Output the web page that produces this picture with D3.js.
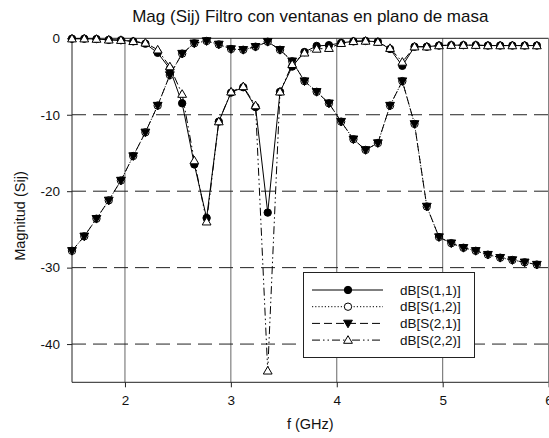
<!DOCTYPE html>
<html><head><meta charset="utf-8">
<script src="https://cdn.jsdelivr.net/npm/d3@7"></script>
<style>body{margin:0;background:#fff}svg{display:block;font-family:"Liberation Sans",Arial,sans-serif}</style>
</head><body><svg id="c" width="549" height="438"></svg>
<script>
const freq = [1.500,1.616,1.731,1.847,1.962,2.078,2.193,2.309,2.424,2.540,2.655,2.771,2.886,3.002,3.117,3.233,3.348,3.464,3.579,3.695,3.810,3.926,4.041,4.157,4.272,4.388,4.503,4.619,4.734,4.850,4.965,5.081,5.196,5.312,5.427,5.543,5.658,5.774,5.889];
const s11 = [-0.05,-0.05,-0.1,-0.2,-0.25,-0.4,-0.7,-1.9,-4.0,-8.5,-16.5,-23.5,-10.9,-7.1,-6.4,-9.0,-22.8,-7.0,-3.7,-1.8,-1.0,-0.9,-0.6,-0.4,-0.35,-0.45,-1.4,-3.6,-1.1,-1.1,-0.95,-0.9,-0.9,-0.9,-0.95,-0.95,-0.95,-0.95,-0.95];
const s12 = [-27.8,-25.9,-23.6,-21.2,-18.6,-15.4,-12.3,-8.8,-4.8,-2.0,-0.65,-0.35,-0.8,-1.4,-1.5,-1.1,-0.45,-1.5,-3.0,-5.6,-7.0,-8.5,-10.9,-13.2,-14.6,-13.7,-8.8,-5.6,-11.2,-22.0,-26.0,-26.8,-27.4,-27.8,-28.3,-28.7,-29.0,-29.3,-29.6];
const s21 = [-27.8,-25.9,-23.6,-21.2,-18.6,-15.4,-12.3,-8.8,-4.8,-2.0,-0.65,-0.35,-0.8,-1.4,-1.5,-1.1,-0.45,-1.5,-3.0,-5.6,-7.0,-8.5,-10.9,-13.2,-14.6,-13.7,-8.8,-5.6,-11.2,-22.0,-26.0,-26.8,-27.4,-27.8,-28.3,-28.7,-29.0,-29.3,-29.6];
const s22 = [-0.05,-0.05,-0.1,-0.2,-0.25,-0.4,-0.6,-1.5,-3.7,-7.3,-16.0,-24.0,-10.9,-7.0,-6.3,-8.8,-43.5,-7.0,-3.4,-1.9,-1.4,-1.3,-0.65,-0.4,-0.35,-0.5,-1.3,-3.1,-1.1,-1.1,-0.95,-0.9,-0.9,-0.9,-0.95,-0.95,-0.95,-0.95,-0.95];
const seriesNames = ["dB[S(1,1)]","dB[S(1,2)]","dB[S(2,1)]","dB[S(2,2)]"];
const xTicks = [2,3,4,5,6];
const yTicks = [0,-10,-20,-30,-40];
const title = "Mag (Sij) Filtro con ventanas en plano de masa";
const xTitle = "f (GHz)";
const yTitle = "Magnitud (Sij)";

const svg = d3.select("#c");
const L=72, R=548.6, T=38.3, B=382.3;
const x = d3.scaleLinear().domain([1.5,6]).range([L,R]);
const y = d3.scaleLinear().domain([-45,0]).range([B,T]);

// grid
svg.append("g").selectAll("line").data(xTicks.filter(d=>d<6)).join("line")
  .attr("x1",d=>x(d)).attr("x2",d=>x(d)).attr("y1",T).attr("y2",B)
  .attr("stroke","#666").attr("stroke-width",1);
svg.append("g").selectAll("line").data(yTicks.filter(d=>d<0)).join("line")
  .attr("x1",L).attr("x2",R).attr("y1",d=>y(d)).attr("y2",d=>y(d))
  .attr("stroke","#222").attr("stroke-width",1).attr("stroke-dasharray","14,7");
// frame
svg.append("line").attr("x1",L).attr("x2",R).attr("y1",T).attr("y2",T).attr("stroke","#222");
svg.append("line").attr("x1",R).attr("x2",R).attr("y1",T).attr("y2",B).attr("stroke","#777");

// axes
const fmt = d=>String(d);
const xa = svg.append("g").attr("transform",`translate(0,${B})`)
  .call(d3.axisBottom(x).tickValues(xTicks).tickSize(5).tickPadding(8).tickFormat(fmt));
const ya = svg.append("g").attr("transform",`translate(${L},0)`)
  .call(d3.axisLeft(y).tickValues(yTicks).tickSize(5).tickPadding(7).tickFormat(fmt));
[xa,ya].forEach(a=>{a.select(".domain").attr("stroke","#222");a.selectAll(".tick line").attr("stroke","#222");
  a.selectAll("text").attr("font-size",13.5).attr("fill","#111").attr("font-family","Liberation Sans, Arial, sans-serif");});
ya.select(".domain").attr("d",`M0,${T}V${B}`);
xa.select(".domain").attr("d",`M${L},0H${R}`);

const styles = [
  {data:s11, dash:null, marker:"circle", fill:"#000"},
  {data:s12, dash:"1.2,2", marker:"circle", fill:"#fff"},
  {data:s21, dash:"8,4", marker:"tdown", fill:"#000"},
  {data:s22, dash:"8,3,1.5,3,1.5,3", marker:"tup", fill:"#fff"}
];
const line = d3.line().x((d,i)=>x(freq[i])).y(d=>y(d));
function drawMarker(g, type, cx, cy, fill){
  if(type==="circle"){
    g.append("circle").attr("cx",cx).attr("cy",cy).attr("r",3.7).attr("fill",fill).attr("stroke","#000").attr("stroke-width",1);
  } else if(type==="tdown"){
    g.append("path").attr("d",`M${cx-4.4},${cy-3.2}L${cx+4.4},${cy-3.2}L${cx},${cy+4.4}Z`).attr("fill",fill).attr("stroke","#000").attr("stroke-width",1);
  } else {
    g.append("path").attr("d",`M${cx-4.4},${cy+3.2}L${cx+4.4},${cy+3.2}L${cx},${cy-4.4}Z`).attr("fill",fill).attr("stroke","#000").attr("stroke-width",1);
  }
}
styles.forEach(s=>{
  const g = svg.append("g");
  g.append("path").attr("d",line(s.data)).attr("fill","none").attr("stroke","#000").attr("stroke-width",1)
    .attr("stroke-dasharray",s.dash);
  s.data.forEach((v,i)=>drawMarker(g,s.marker,x(freq[i]),y(v),s.fill));
});

// legend
const lg = svg.append("g");
lg.append("rect").attr("x",303.5).attr("y",272.5).attr("width",171).attr("height",85).attr("fill","#fff").attr("stroke","#222");
seriesNames.forEach((n,i)=>{
  const yy = 290 + i*16.7;
  lg.append("line").attr("x1",312).attr("x2",383).attr("y1",yy).attr("y2",yy).attr("stroke","#000").attr("stroke-dasharray",styles[i].dash);
  drawMarker(lg, styles[i].marker, 348, yy, styles[i].fill);
  lg.append("text").attr("x",400).attr("y",yy).attr("dy","0.35em").attr("font-size",13.5).attr("fill","#111").text(n);
});

// titles
svg.append("text").attr("x",(L+R)/2).attr("y",22).attr("text-anchor","middle").attr("font-size",17).attr("fill","#111").text(title);
svg.append("text").attr("x",(L+R)/2).attr("y",429).attr("text-anchor","middle").attr("font-size",14.5).attr("fill","#111").text(xTitle);
svg.append("text").attr("transform","translate(25,216) rotate(-90)").attr("text-anchor","middle").attr("font-size",14.5).attr("fill","#111").text(yTitle);
</script></body></html>
